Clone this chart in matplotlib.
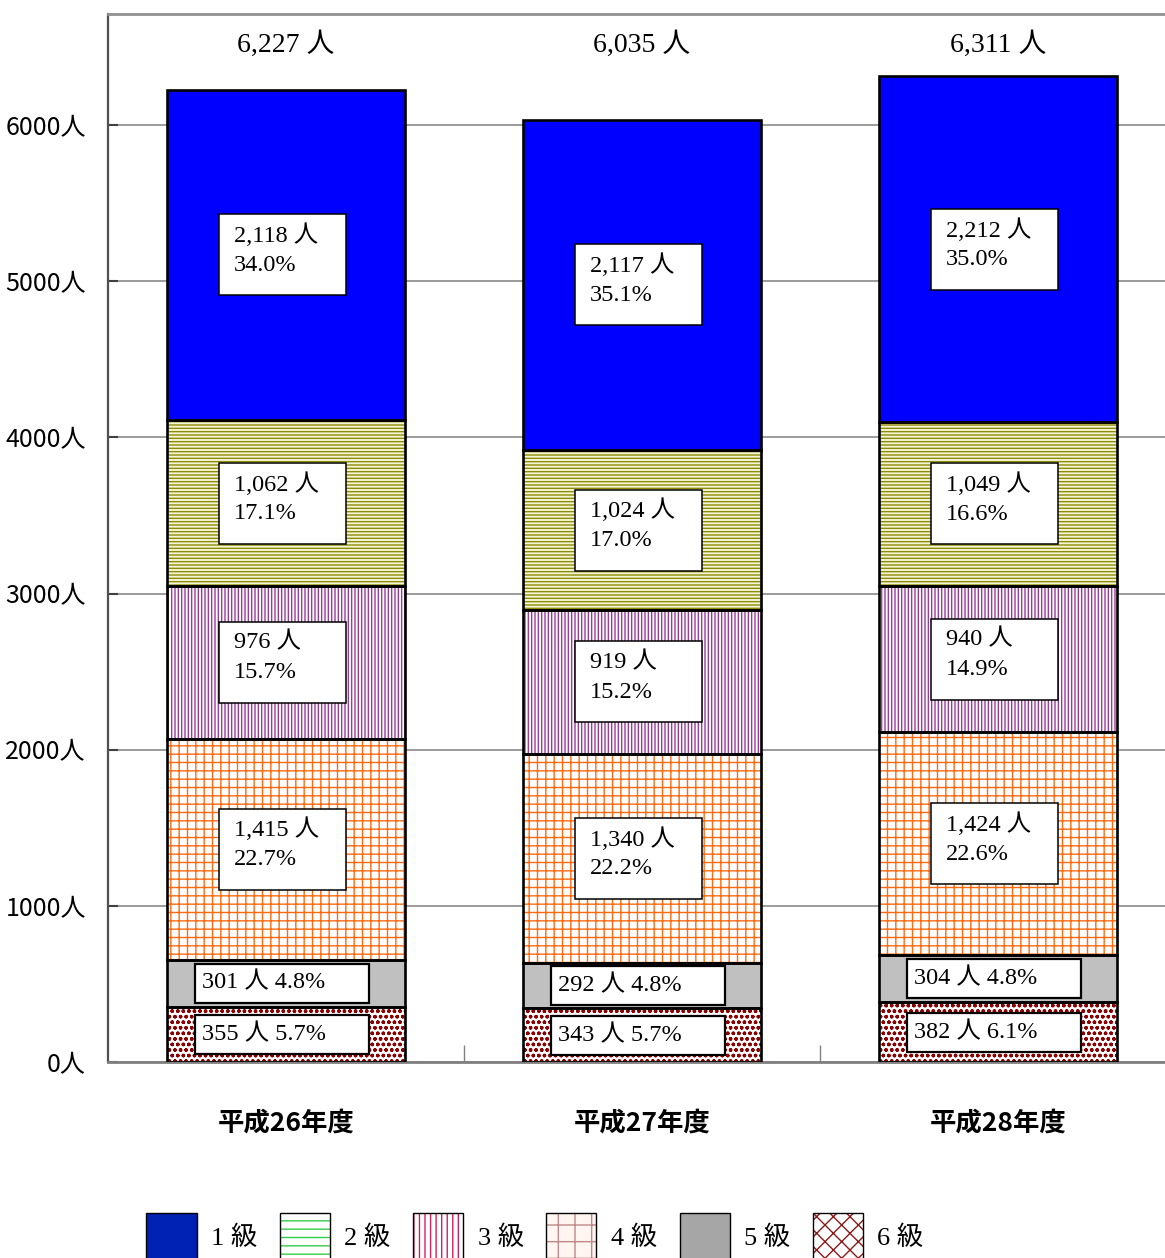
import matplotlib.pyplot as plt
import matplotlib.transforms as mtransforms
from matplotlib.patches import Patch, Rectangle

# data
years = ['平成26年度', '平成27年度', '平成28年度']
grades = ['1 級', '2 級', '3 級', '4 級', '5 級', '6 級']
g1 = [2118, 2117, 2212]
g2 = [1062, 1024, 1049]
g3 = [976, 919, 940]
g4 = [1415, 1340, 1424]
g5 = [301, 292, 304]
g6 = [355, 343, 382]
p1 = [34.0, 35.1, 35.0]
p2 = [17.1, 17.0, 16.6]
p3 = [15.7, 15.2, 14.9]
p4 = [22.7, 22.2, 22.6]
p5 = [4.8, 4.8, 4.8]
p6 = [5.7, 5.7, 6.1]
totals = [6227, 6035, 6311]
yticks = [0, 1000, 2000, 3000, 4000, 5000, 6000]

SERIF = ['Liberation Serif', 'Noto Sans CJK JP']
GOTHIC = ['Noto Sans CJK JP']

# stacked bottom -> top
segments = [
    (g6, p6, 'white', '#8b0000', 'ooo', True),
    (g5, p5, '#c0c0c0', '#c0c0c0', None, True),
    (g4, p4, 'white', '#ff6a10', '++', False),
    (g3, p3, 'white', '#9a3a9a', '|||||', False),
    (g2, p2, '#f4f4d8', '#8c8c00', '-----', False),
    (g1, p1, '#0000ff', '#0000ff', None, False),
]

fig = plt.figure(figsize=(11.65, 12.58), dpi=100)
ax = fig.add_axes([108 / 1165, (1258 - 1062) / 1258, (1176 - 108) / 1165, (1062 - 14) / 1258])
ax.set_xlim(-0.5, 2.5)
ax.set_ylim(0, 6711)

x = [0, 1, 2]
width = 0.671
bottoms = [0, 0, 0]
mids = []
for vals, pcts, fc, hc, hatch, oneline in segments:
    ax.bar(x, vals, width, bottom=bottoms, facecolor=fc, edgecolor=hc, hatch=hatch,
           linewidth=0, zorder=2)
    ax.bar(x, vals, width, bottom=bottoms, fill=False, edgecolor='black',
           linewidth=1.9, zorder=3)
    mids.append([b + v / 2 for b, v in zip(bottoms, vals)])
    bottoms = [b + v for b, v in zip(bottoms, vals)]


def label_box(xc, yc, lines):
    # box drawn in pixels around the data point
    tr = mtransforms.Affine2D() + mtransforms.ScaledTranslation(xc, yc, ax.transData)
    if len(lines) == 2:
        w, h = 127, 81
        ax.add_patch(Rectangle((-w / 2, -h / 2), w, h, transform=tr, facecolor='white',
                               edgecolor='black', linewidth=1.1, zorder=4))
        ax.text(-w / 2 + 15, h / 2 - 21, lines[0], transform=tr, ha='left', va='center',
                fontsize=17.5, family=SERIF, zorder=5)
        ax.text(-w / 2 + 15, h / 2 - 51, lines[1], transform=tr, ha='left', va='center',
                fontsize=17.5, family=SERIF, zorder=5)
    else:
        w, h = 174, 39
        ax.add_patch(Rectangle((-w / 2, -h / 2), w, h, transform=tr, facecolor='white',
                               edgecolor='black', linewidth=1.6, zorder=4))
        ax.text(-w / 2 + 7, 0, lines[0], transform=tr, ha='left', va='center',
                fontsize=17.5, family=SERIF, zorder=5)


for (vals, pcts, fc, hc, hatch, oneline), ym in zip(segments, mids):
    for i in x:
        a = f'{vals[i]:,} 人'
        b = f'{pcts[i]:.1f}%'
        label_box(i - 0.01, ym[i], [a + ' ' + b] if oneline else [a, b])

for i in x:
    ax.text(i, 0.971, f'{totals[i]:,} 人', transform=ax.get_xaxis_transform(),
            ha='center', va='center', fontsize=20, family=SERIF)

# axes styling
ax.set_yticks(yticks)
ax.set_yticklabels([f'{v}人' for v in yticks], family=GOTHIC, fontsize=18)
ax.tick_params(axis='y', direction='in', length=7, width=1.5, color='#404040', pad=16)
ax.set_xticks(x)
ax.set_xticklabels(years, family=GOTHIC, fontsize=19, fontweight='bold')
ax.set_xticks([0.5, 1.5], minor=True)
ax.tick_params(axis='x', which='major', length=0, pad=34)
ax.tick_params(axis='x', which='minor', direction='in', length=12, width=1, color='#808080')
ax.grid(axis='y', color='#808080', linewidth=1.1)
ax.set_axisbelow(True)
ax.spines['left'].set_color('#505050')
ax.spines['left'].set_linewidth(1.6)
ax.spines['bottom'].set_color('#808080')
ax.spines['bottom'].set_linewidth(2)
ax.spines['top'].set_color('#909090')
ax.spines['top'].set_linewidth(2)
ax.spines['right'].set_visible(False)

# legend (swatch styles differ from the bars, as in the original)
leg_styles = [
    ('#0022b4', '#0022b4', None),
    ('white', '#33cc44', '--'),
    ('white', '#d02060', '|||'),
    ('#fff6f2', '#c08888', '+'),
    ('#a6a6a6', '#a6a6a6', None),
    ('white', '#8b1a1a', 'xx'),
]
handles = []
for fc, hc, hatch in leg_styles:
    handles.append((Patch(facecolor=fc, edgecolor=hc, hatch=hatch, linewidth=0),
                    Patch(fill=False, edgecolor='black', linewidth=1)))
fig.legend(handles, grades, loc='center', bbox_to_anchor=(535 / 1165, 1 - 1237 / 1258),
           ncol=6, frameon=False, prop={'family': SERIF, 'size': 19},
           handlelength=1.9, handleheight=2.4, handletextpad=0.55, columnspacing=0.85)

fig.savefig('out.png')
